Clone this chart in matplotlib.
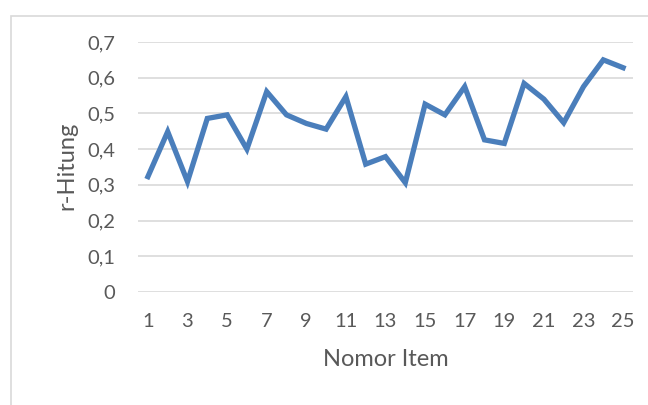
import matplotlib
matplotlib.use("Agg")
from matplotlib import pyplot as plt
from matplotlib.patches import Rectangle

# r-Hitung per item
items = list(range(1, 26))
r_hitung = [0.323, 0.449, 0.309, 0.486, 0.496, 0.400, 0.561, 0.496, 0.472, 0.456,
            0.547, 0.358, 0.379, 0.306, 0.526, 0.496, 0.575, 0.426, 0.416, 0.584,
            0.540, 0.474, 0.575, 0.650, 0.628]
y_ticks = [0, 0.1, 0.2, 0.3, 0.4, 0.5, 0.6, 0.7]
y_labels = ["0", "0,1", "0,2", "0,3", "0,4", "0,5", "0,6", "0,7"]
x_labels = [str(i) for i in items if i % 2 == 1]

plt.rcParams['font.family'] = ['Lato', 'DejaVu Sans']
txt = "#595959"

fig = plt.figure(figsize=(6.48, 4.05), dpi=100)
ax = fig.add_axes([138 / 648, 1 - 292 / 405, (633 - 138) / 648, (292 - 42) / 405])

ax.plot(items, r_hitung, color="#4A7EBB", lw=3.8, solid_joinstyle="miter")

ax.set_xlim(0.5, 25.5)
ax.set_ylim(0, 0.7)
ax.set_yticks(y_ticks)
ax.set_yticklabels(y_labels)
ax.set_xticks([i for i in items if i % 2 == 1])
ax.set_xticklabels(x_labels)
ax.tick_params(length=0, labelsize=14.5, colors=txt)
ax.tick_params(axis="y", pad=16.5)
ax.tick_params(axis="x", pad=15)
ax.grid(axis="y", color="#D9D9D9", lw=1.2)
ax.set_axisbelow(True)
for s in ax.spines.values():
    s.set_visible(False)

ax.set_xlabel("Nomor Item", fontsize=17, color=txt, va="center")
ax.xaxis.set_label_coords(0.5, (292 - 360) / 250)
ax.set_ylabel("r-Hitung", fontsize=17, color=txt, va="center")
ax.yaxis.set_label_coords((67 - 138) / 495, (292 - 166) / 250)

# chart area border
fig.patches.append(Rectangle((11 / 648, -0.1), 1.2, 1 - 16 / 405 + 0.1, transform=fig.transFigure,
                             fill=False, edgecolor="#D9D9D9", lw=1.2))

fig.savefig("out.png", dpi=100)
